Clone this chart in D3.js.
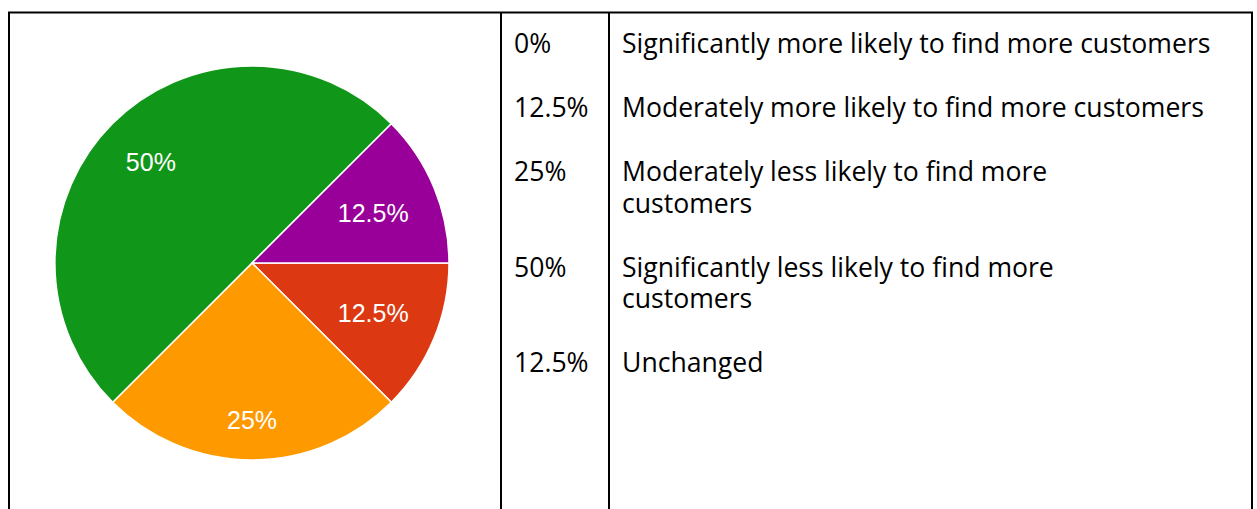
<!DOCTYPE html>
<html>
<head>
<meta charset="utf-8">
<script src="https://cdn.jsdelivr.net/npm/d3@7/dist/d3.min.js"></script>
<style>
  html, body { margin: 0; padding: 0; background: #fff; }
  svg { display: block; }
</style>
</head>
<body>
<svg id="chart" width="1257" height="509"></svg>
<script>
// ---- data ----
const categories = [
  "Significantly more likely to find more customers",
  "Moderately more likely to find more customers",
  "Moderately less likely to find more customers",
  "Significantly less likely to find more customers",
  "Unchanged"
];
const categoryLines = [
  ["Significantly more likely to find more customers"],
  ["Moderately more likely to find more customers"],
  ["Moderately less likely to find more", "customers"],
  ["Significantly less likely to find more", "customers"],
  ["Unchanged"]
];
const values = [0, 12.5, 25, 50, 12.5];
const valueLabels = ["0%", "12.5%", "25%", "50%", "12.5%"];
const colors = ["#3366cc", "#dc3912", "#ff9900", "#109618", "#990099"];

// ---- layout ----
const svg = d3.select("#chart");
const W = 1257, H = 509;
const cx = 252, cy = 263, R = 197;
const tableTop = 12.5, xLeft = 9, xCol1 = 501, xCol2 = 609, xRight = 1252;

// table borders
const border = svg.append("g").attr("stroke", "#000").attr("stroke-width", 2);
border.append("line").attr("x1", xLeft - 1).attr("x2", xRight + 1).attr("y1", tableTop).attr("y2", tableTop);
[xLeft, xCol1, xCol2, xRight].forEach(x => {
  border.append("line").attr("x1", x).attr("x2", x).attr("y1", tableTop).attr("y2", H + 2);
});

// pie
const pie = d3.pie().value(d => d.v).sort(null)
  .startAngle(Math.PI / 2).endAngle(Math.PI / 2 + 2 * Math.PI);
const data = values.map((v, i) => ({ v, label: valueLabels[i], color: colors[i] }));
const arcs = pie(data);
const arc = d3.arc().innerRadius(0).outerRadius(R);

const pg = svg.append("g").attr("transform", `translate(${cx},${cy})`);
pg.selectAll("path.slice").data(arcs.filter(a => a.data.v > 0)).join("path")
  .attr("class", "slice")
  .attr("d", arc)
  .attr("fill", d => d.data.color)
  .attr("stroke", "#fff")
  .attr("stroke-width", 1.5);

// labels: text box placed along the mid-angle so that its far corner sits at 0.85R
const fs = 25;
const labelR = 0.85 * R;
const lg = pg.append("g")
  .attr("font-family", "Arial, 'Liberation Sans', sans-serif")
  .attr("font-size", fs)
  .attr("fill", "#fff");
arcs.filter(a => a.data.v > 0).forEach(a => {
  const t = lg.append("text").text(a.data.label).attr("text-anchor", "middle");
  const w = t.node().getComputedTextLength();
  const h = 0.716 * fs;
  const mid = (a.startAngle + a.endAngle) / 2;
  const ux = Math.sin(mid), uy = -Math.cos(mid);
  const sx = Math.sign(ux) * w / 2, sy = Math.sign(uy) * h / 2;
  const A = ux * ux + uy * uy, B = 2 * (ux * sx + uy * sy), C = sx * sx + sy * sy - labelR * labelR;
  const d = (-B + Math.sqrt(B * B - 4 * A * C)) / (2 * A);
  const x = d * ux, y = d * uy;
  t.attr("x", x).attr("y", y + h / 2);
});

// table text
const lineH = 31.5, rowGap = 32.5, firstBaseline = 53;
const tg = svg.append("g")
  .attr("font-family", "'Open Sans', sans-serif")
  .attr("font-size", 26.6)
  .attr("fill", "#000");
let yb = firstBaseline;
valueLabels.forEach((lab, i) => {
  tg.append("text").attr("x", 514).attr("y", yb).text(lab);
  const t = tg.append("text").attr("x", 622).attr("y", yb);
  categoryLines[i].forEach((ln, j) => {
    t.append("tspan").attr("x", 622).attr("y", yb + j * lineH).text(ln);
  });
  yb += categoryLines[i].length * lineH + rowGap;
});
</script>
</body>
</html>
